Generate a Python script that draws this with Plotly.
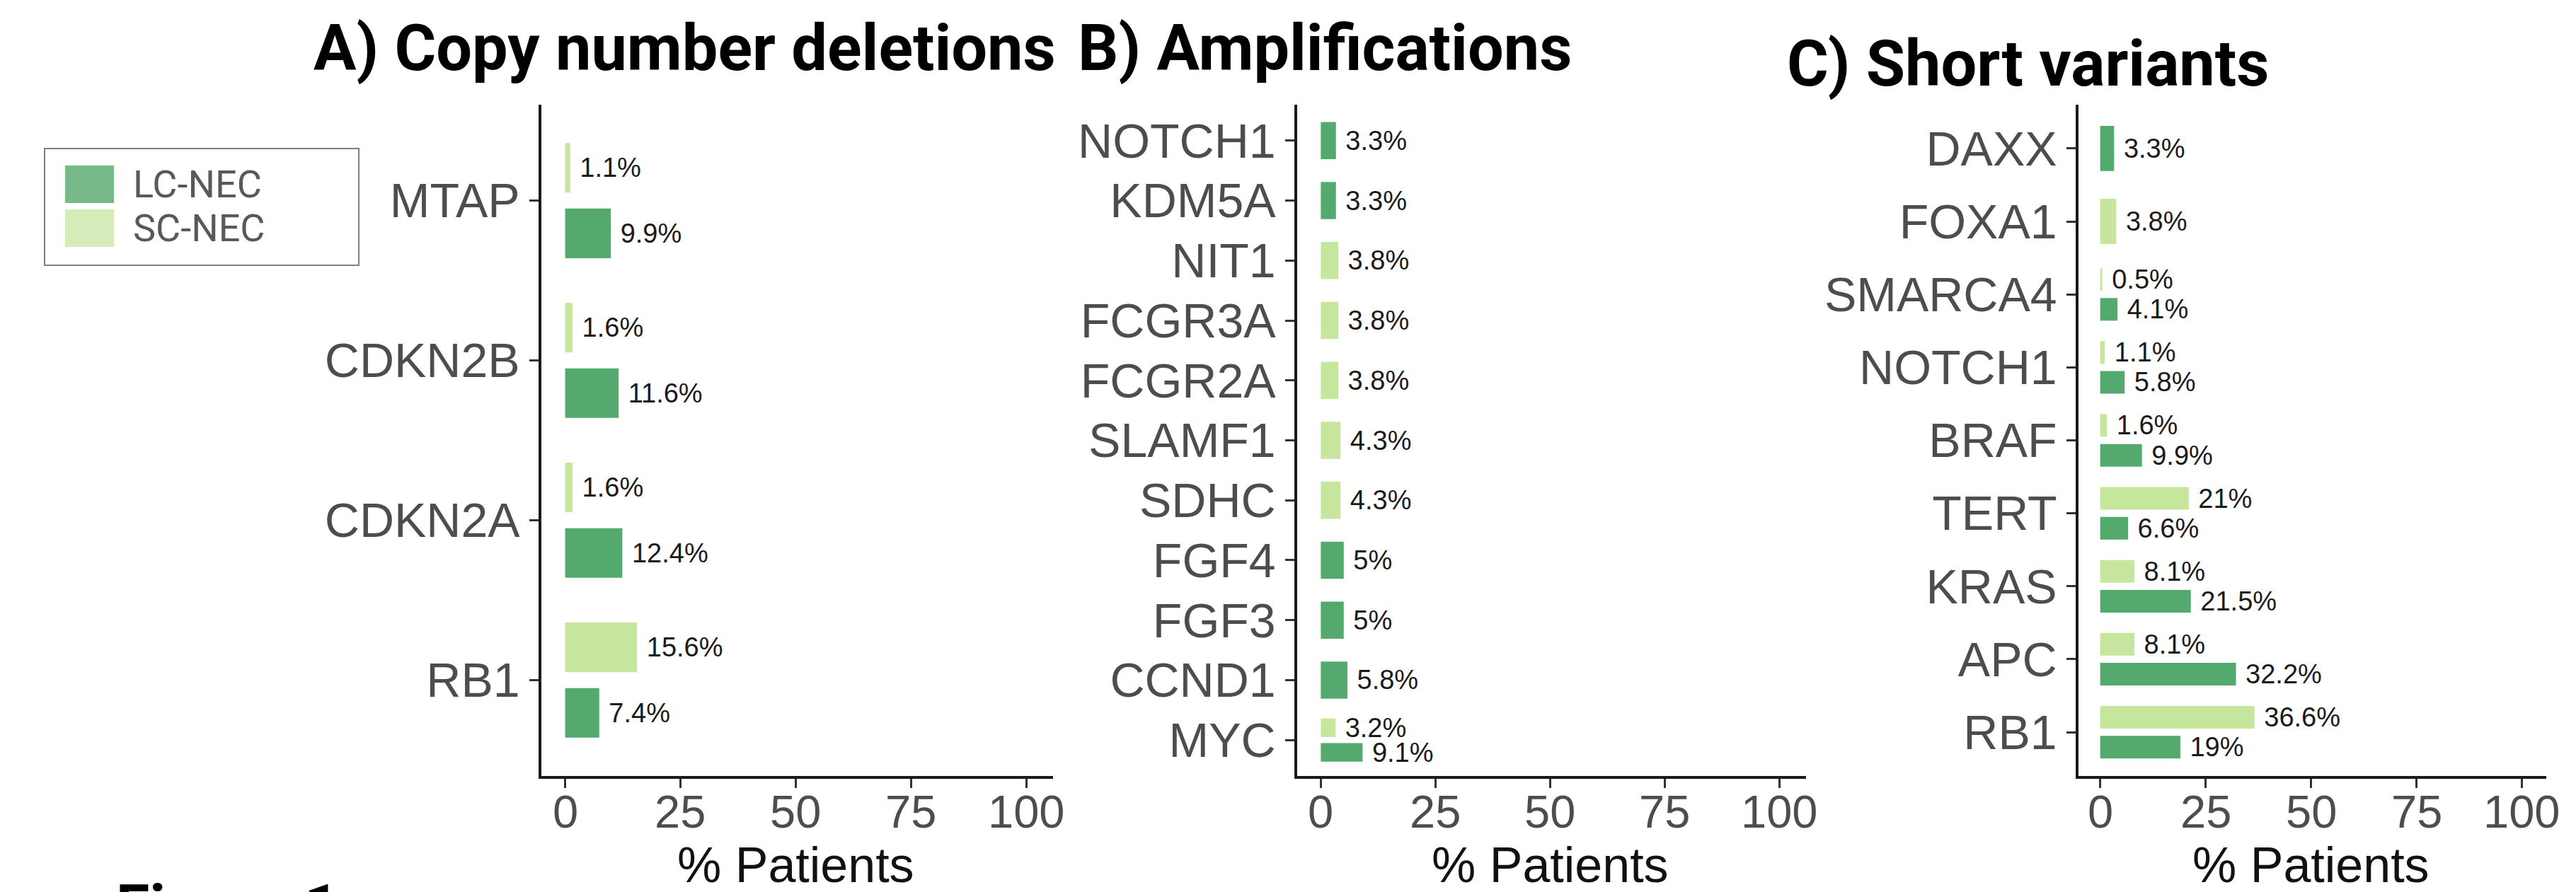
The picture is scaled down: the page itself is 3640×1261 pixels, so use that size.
import plotly.graph_objects as go

# ---------------- data ----------------
genes_a = ["MTAP", "CDKN2B", "CDKN2A", "RB1"]
sc_a = [1.1, 1.6, 1.6, 15.6]
lc_a = [9.9, 11.6, 12.4, 7.4]

genes_b = ["NOTCH1", "KDM5A", "NIT1", "FCGR3A", "FCGR2A", "SLAMF1", "SDHC",
           "FGF4", "FGF3", "CCND1", "MYC"]
sc_b = [None, None, 3.8, 3.8, 3.8, 4.3, 4.3, None, None, None, 3.2]
lc_b = [3.3, 3.3, None, None, None, None, None, 5, 5, 5.8, 9.1]

genes_c = ["DAXX", "FOXA1", "SMARCA4", "NOTCH1", "BRAF", "TERT", "KRAS", "APC", "RB1"]
sc_c = [None, 3.8, 0.5, 1.1, 1.6, 21, 8.1, 8.1, 36.6]
lc_c = [3.3, None, 4.1, 5.8, 9.9, 6.6, 21.5, 32.2, 19]

panel_titles = ["A) Copy number deletions", "B) Amplifications", "C) Short variants"]
x_ticks = [0, 25, 50, 75, 100]
x_tick_labels = ["0", "25", "50", "75", "100"]
x_title = "% Patients"
series_names = ["LC-NEC", "SC-NEC"]
footer = "Figure 1"

# ---------------- style ----------------
W, H = 3640, 1261
LC_COLOR = "#54AA6E"
SC_COLOR = "#C6E69E"
LC_KEY = "#78B98A"
SC_KEY = "#D6EBBA"
BAR_W = 0.31
GAP = 0.05
TICK_FONT = "Liberation Sans, Arial, sans-serif"
TITLE_FONT = "Roboto, sans-serif"

x_domains_px = [(765, 1488), (1833, 2552), (2937, 3598)]
y_domain_px = (148, 1097)
x_range = [-5.15, 105.8]


def px(x):
    return x / W


def py(y):
    return 1 - y / H


panels = [(genes_a, sc_a, lc_a), (genes_b, sc_b, lc_b), (genes_c, sc_c, lc_c)]

fig = go.Figure()

for i, (genes, sc, lc) in enumerate(panels):
    sfx = "" if i == 0 else str(i + 1)
    for name, vals, other, color in [("SC-NEC", sc, lc, SC_COLOR), ("LC-NEC", lc, sc, LC_COLOR)]:
        ys, xs, offs, wids, txt = [], [], [], [], []
        for g, v, o in zip(genes, vals, other):
            if v is None:
                continue
            ys.append(g)
            xs.append(v)
            if o is None:
                offs.append(-BAR_W)
                wids.append(2 * BAR_W)
            elif name == "SC-NEC":
                offs.append(GAP)
                wids.append(BAR_W)
            else:
                offs.append(-(GAP + BAR_W))
                wids.append(BAR_W)
            txt.append("\u00a0" + f"{v:g}%")
        fig.add_trace(go.Bar(
            x=xs, y=ys, orientation="h", offset=offs, width=wids,
            marker=dict(color=color, line=dict(width=0)),
            text=txt, textposition="outside", cliponaxis=False,
            constraintext="none",
            textfont=dict(family=TICK_FONT, size=38, color="#1a1a1a"),
            name=name, showlegend=False,
            xaxis="x" + sfx, yaxis="y" + sfx,
        ))

layout = dict(
    width=W, height=H,
    template="none",
    paper_bgcolor="white", plot_bgcolor="white",
    margin=dict(l=0, r=0, t=0, b=0, pad=0),
    barmode="overlay",
    showlegend=False,
)

annotations = []
for i, (genes, sc, lc) in enumerate(panels):
    sfx = "" if i == 0 else str(i + 1)
    x0, x1 = x_domains_px[i]
    layout["xaxis" + sfx] = dict(
        domain=[px(x0), px(x1)], anchor="y" + sfx, range=x_range,
        tickmode="array", tickvals=x_ticks, showticklabels=False,
        ticks="outside", ticklen=13, tickwidth=3, tickcolor="#333333",
        showline=True, linewidth=3.5, linecolor="#1a1a1a",
        showgrid=False, zeroline=False, automargin=False,
    )
    layout["yaxis" + sfx] = dict(
        domain=[py(y_domain_px[1]), py(y_domain_px[0])], anchor="x" + sfx,
        type="category", categoryorder="array", categoryarray=genes[::-1],
        range=[-0.6, len(genes) - 0.4],
        ticks="outside", ticklen=13, tickwidth=3, tickcolor="#333333",
        showline=True, linewidth=3.5, linecolor="#1a1a1a",
        showgrid=False, zeroline=False, automargin=False,
        tickfont=dict(family=TICK_FONT, size=68, color="#4d4d4d"),
    )
    # x tick labels placed on the axis scale
    for tv, tl in zip(x_ticks, x_tick_labels):
        annotations.append(dict(
            text=tl, xref="x" + sfx, yref="paper", x=tv, y=py(1147),
            xanchor="center", yanchor="middle", showarrow=False,
            font=dict(family=TICK_FONT, size=65, color="#4d4d4d"),
        ))
    # x-axis title, centred under the 0..100 span of the axis
    annotations.append(dict(
        text=x_title, xref="x" + sfx, yref="paper",
        x=(x_ticks[0] + x_ticks[-1]) / 2, y=py(1223),
        xanchor="center", yanchor="middle", showarrow=False,
        font=dict(family=TICK_FONT, size=70, color="#111111"),
    ))

title_pos = [(441, 68), (1521, 68), (2523, 91)]
for t, (tx, ty) in zip(panel_titles, title_pos):
    annotations.append(dict(
        text="<b>" + t + "</b>", xref="paper", yref="paper",
        x=px(tx), y=py(ty), xanchor="left", yanchor="middle", showarrow=False,
        font=dict(family=TITLE_FONT, size=90, color="#000000"),
    ))

annotations.append(dict(
    text="<b>" + footer + "</b>", xref="paper", yref="paper",
    x=px(162), y=py(1281), xanchor="left", yanchor="middle", showarrow=False,
    font=dict(family=TITLE_FONT, size=86, color="#000000"),
))

# manual legend
shapes = [dict(type="rect", xref="paper", yref="paper",
               x0=px(63), x1=px(507), y0=py(375), y1=py(210),
               line=dict(color="#7f7f7f", width=2), fillcolor="rgba(0,0,0,0)")]
key_rows = [(234, 287, LC_KEY), (296, 349, SC_KEY)]
for (k0, k1, kc), lbl in zip(key_rows, series_names):
    shapes.append(dict(type="rect", xref="paper", yref="paper",
                       x0=px(92), x1=px(161), y0=py(k1), y1=py(k0),
                       line=dict(width=0), fillcolor=kc))
    annotations.append(dict(
        text=lbl, xref="paper", yref="paper", x=px(186), y=py((k0 + k1) / 2),
        xanchor="left", yanchor="middle", showarrow=False,
        font=dict(family="Roboto, sans-serif", size=54, color="#595959"),
    ))

layout["annotations"] = annotations
layout["shapes"] = shapes
fig.update_layout(**layout)

fig.write_html("out.html",
               config={"displayModeBar": False},
               post_script="document.body.style.margin='0';document.body.style.overflow='hidden';")
